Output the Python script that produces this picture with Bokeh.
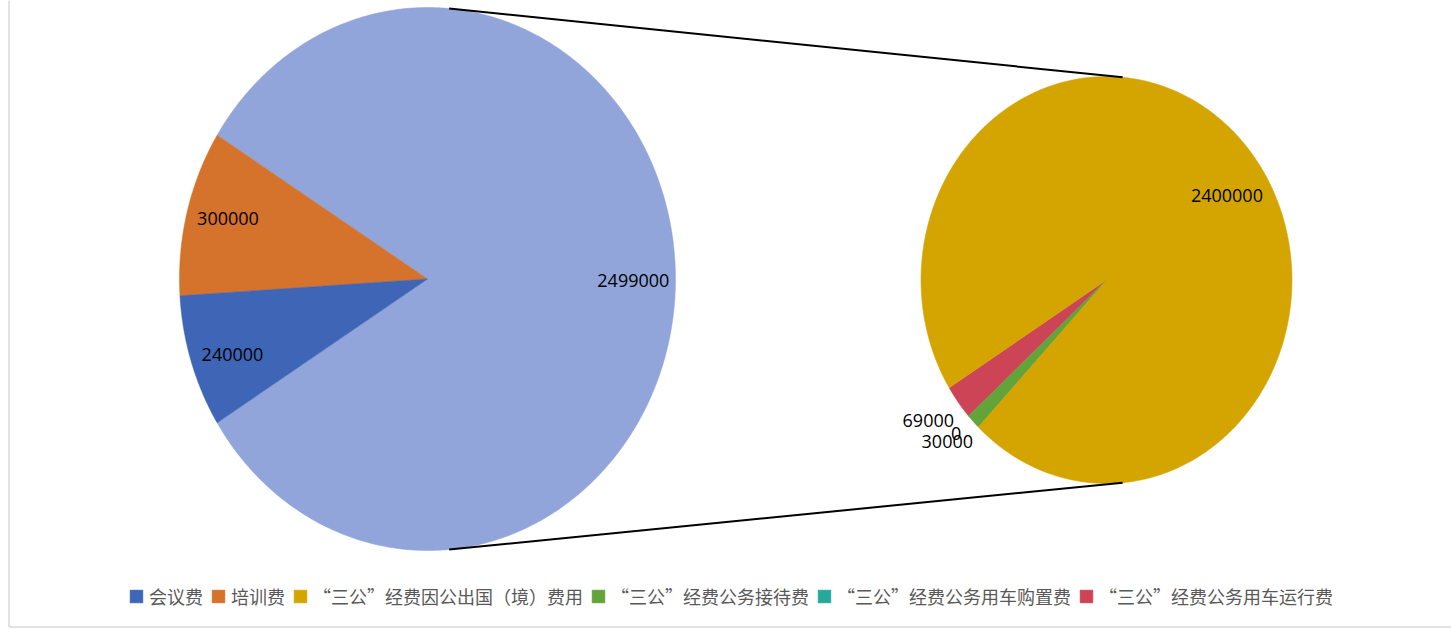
import numpy as np
from bokeh.plotting import figure
from bokeh.models import ColumnDataSource, Range1d, Legend, LegendItem
from bokeh.core.properties import value
from bokeh.embed import file_html
from bokeh.resources import INLINE

# ---------------- data ----------------
main_labels = ["会议费", "培训费"]
main_values = [240000, 300000]
sub_labels = ["“三公”经费因公出国（境）费用", "“三公”经费公务接待费",
              "“三公”经费公务用车购置费", "“三公”经费公务用车运行费"]
sub_values = [2400000, 30000, 0, 69000]

main_colors = ["#3F65B6", "#D5722B"]
other_color = "#91A5DA"
sub_colors = ["#D4A500", "#62A33A", "#26A89B", "#CC4456"]

# ---------------- layout ----------------
W, H = 1451, 629
X0, Y0 = 0, 0  # data coords == page pixels
L_CX, L_CY, L_RX, L_RY = 427, 278.5, 248, 271.5
R_CX, R_CY, R_RX, R_RY = 1106, 279.5, 185.5, 203.5

p = figure(width=W, height=H, output_backend="svg", toolbar_location=None,
           x_range=Range1d(X0, X0 + W), y_range=Range1d(Y0 + H, Y0),
           min_border=0, outline_line_color=None,
           background_fill_color="white", border_fill_color="white")
p.axis.visible = False
p.grid.visible = False


def wedge(cx, cy, rx, ry, a0, a1):
    n = max(2, int(abs(a1 - a0) / 0.5) + 2)
    t = np.radians(np.linspace(a0, a1, n))
    xs = [cx] + list(cx + rx * np.cos(t))
    ys = [cy] + list(cy - ry * np.sin(t))
    return xs, ys


def point(cx, cy, rx, ry, a, f=1.0):
    t = np.radians(a)
    return cx + f * rx * np.cos(t), cy - f * ry * np.sin(t)


# ---- left pie: other, 培训费, 会议费 (counter-clockwise) ----
other_value = sum(sub_values)
left_vals = [other_value, main_values[1], main_values[0]]
left_cols = [other_color, main_colors[1], main_colors[0]]
left_total = sum(left_vals)
start = -180.0 * other_value / left_total
lxs, lys, lmid = [], [], []
a = start
for v in left_vals:
    span = 360.0 * v / left_total
    xs, ys = wedge(L_CX, L_CY, L_RX, L_RY, a, a + span)
    lxs.append(xs); lys.append(ys); lmid.append(a + span / 2)
    a += span
lsrc = ColumnDataSource(dict(xs=lxs, ys=lys, color=left_cols))
lr = p.patches("xs", "ys", source=lsrc, fill_color="color", line_color="color", line_width=0.5)

# ---- right pie: 运行费, 接待费, 购置费, 出国 (counter-clockwise from 212deg) ----
right_order = [3, 1, 2, 0]
right_total = sum(sub_values)
rxs, rys, rmid = [], [], {}
a = 212.0
for i in right_order:
    span = 360.0 * sub_values[i] / right_total
    xs, ys = wedge(R_CX, R_CY, R_RX, R_RY, a, a + span)
    rxs.append(xs); rys.append(ys); rmid[i] = a + span / 2
    a += span
rsrc = ColumnDataSource(dict(xs=rxs, ys=rys, color=[sub_colors[i] for i in right_order]))
rr = p.patches("xs", "ys", source=rsrc, fill_color="color", line_color="color", line_width=0.5)

# ---- connector lines ----
lt = point(L_CX, L_CY, L_RX, L_RY, 85)
rt = point(R_CX, R_CY, R_RX, R_RY, 85)
lb = point(L_CX, L_CY, L_RX, L_RY, -85)
rb = point(R_CX, R_CY, R_RX, R_RY, -85)
p.segment(x0=[lt[0], lb[0]], y0=[lt[1], lb[1]], x1=[rt[0], rb[0]], y1=[rt[1], rb[1]],
          line_color="black", line_width=2)

# ---- chart-area border (left and bottom) ----
p.segment(x0=[8.5, 8.5], y0=[0, 626.5], x1=[8.5, W], y1=[626.5, 626.5],
          line_color="#D9D9D9", line_width=1.5)

# ---- data labels ----
tx, ty, tt = [], [], []
left_offsets = [(0, 1), (0, -5), (1, 7)]
for k, v in enumerate(left_vals):
    x, y = point(L_CX, L_CY, L_RX, L_RY, lmid[k], 0.83)
    tx.append(x + left_offsets[k][0]); ty.append(y + left_offsets[k][1]); tt.append(str(v))
# right pie labels
right_f = {0: 0.83, 1: 1.0, 2: 1.0, 3: 1.0}
right_offsets = {0: (1, 22), 1: (-26, 20), 2: (-22, 6), 3: (-30, 18)}
for i in [0, 3, 2, 1]:
    x, y = point(R_CX, R_CY, R_RX, R_RY, rmid[i], right_f[i])
    tx.append(x + right_offsets[i][0]); ty.append(y + right_offsets[i][1]); tt.append(str(sub_values[i]))
p.text(x=tx, y=ty, text=tt, text_align="center", text_baseline="middle",
       text_font=value("Open Sans"), text_font_size="18px", text_color="#000000")

# ---- legend ----
items = [
    LegendItem(label=main_labels[0], renderers=[lr], index=2),
    LegendItem(label=main_labels[1], renderers=[lr], index=1),
]
for i in range(4):
    items.append(LegendItem(label=sub_labels[i], renderers=[rr], index=right_order.index(i)))
legend = Legend(items=items, orientation="horizontal", location=(128, 20),
                label_text_font="Noto Sans CJK SC", label_text_font_size="18px",
                label_text_color="#595959", glyph_width=16, glyph_height=16,
                label_standoff=5, spacing=7, padding=0, margin=0,
                background_fill_alpha=0, border_line_color=None)
p.add_layout(legend)

open("out.html", "w").write(file_html(p, INLINE))
